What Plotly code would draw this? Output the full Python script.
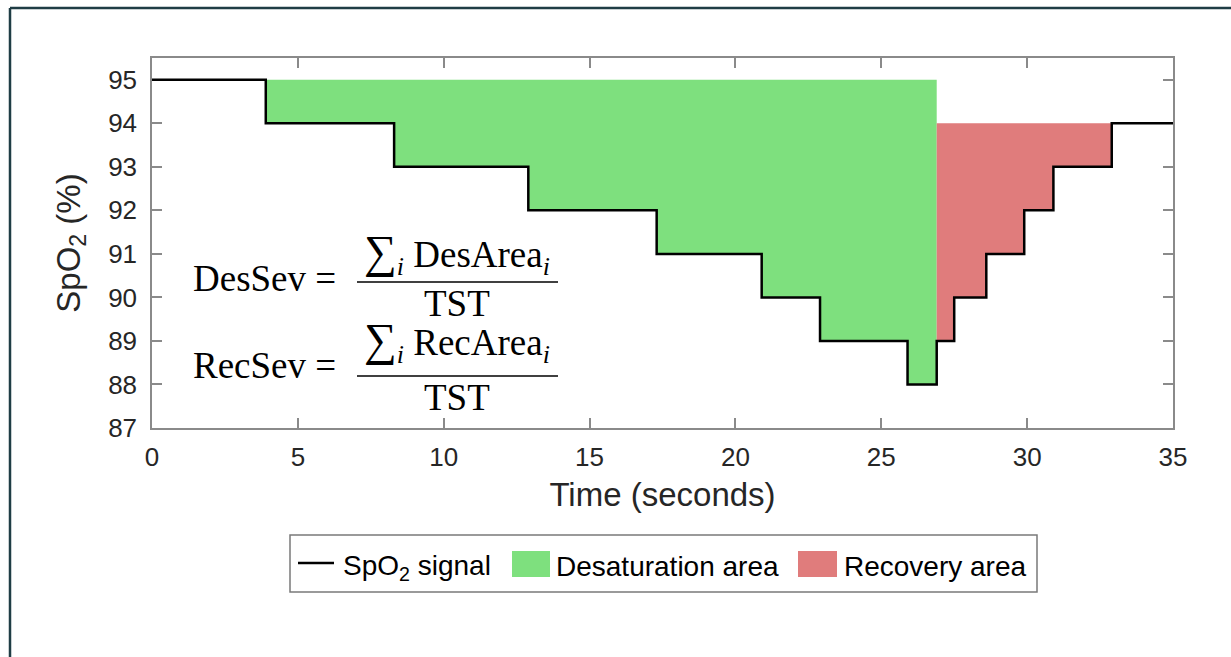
import plotly.graph_objects as go

# ---------------- data ----------------
step_times = [0, 3.9, 8.3, 12.9, 17.3, 20.9, 22.9, 25.9, 26.9, 27.5, 28.6, 29.9, 30.9, 32.9, 35]
spo2_levels = [95, 94, 93, 92, 91, 90, 89, 88, 89, 90, 91, 92, 93, 94, 94]
des_window = [3.9, 26.9]
des_reference = 95
rec_window = [26.9, 32.9]
rec_reference = 94
x_ticks = [0, 5, 10, 15, 20, 25, 30, 35]
y_ticks = [87, 88, 89, 90, 91, 92, 93, 94, 95]
legend_labels = ["SpO<sub>2</sub> signal", "Desaturation area", "Recovery area"]

GREEN = "#7EE07E"
RED = "#E07C7C"
TXT = "#262626"
AXC = "#8a8a8a"

# plot-area pixel geometry (for paper conversion of decorations)
L, R, T, B = 152, 1173, 58, 428
W, H = 1231, 657


def px(x):
    return (x - L) / (R - L)


def py(y):
    return (B - y) / (B - T)


def step_area(window, ref):
    t0, t1 = window
    xs, ys = [t0], [ref]
    for i in range(len(step_times) - 1):
        a, b = step_times[i], step_times[i + 1]
        if a >= t0 and b <= t1:
            xs += [a, b]
            ys += [spo2_levels[i], spo2_levels[i]]
    xs += [t1]
    ys += [ref]
    return xs, ys


fig = go.Figure()
dx, dy = step_area(des_window, des_reference)
fig.add_trace(go.Scatter(x=dx, y=dy, fill="toself", fillcolor=GREEN, mode="lines",
                         line=dict(width=0, color=GREEN), showlegend=False, hoverinfo="skip",
                         name="Desaturation area"))
rx, ry = step_area(rec_window, rec_reference)
fig.add_trace(go.Scatter(x=rx, y=ry, fill="toself", fillcolor=RED, mode="lines",
                         line=dict(width=0, color=RED), showlegend=False, hoverinfo="skip",
                         name="Recovery area"))
fig.add_trace(go.Scatter(x=step_times, y=spo2_levels, mode="lines",
                         line=dict(shape="hv", color="black", width=2.5),
                         showlegend=False, name="SpO2 signal", cliponaxis=False))

sans = "Liberation Sans, Arial, Helvetica, sans-serif"
serif = "Liberation Serif, Times New Roman, serif"

axis_common = dict(showline=True, linecolor=AXC, linewidth=1.5, mirror="ticks",
                   ticks="inside", ticklen=10, tickwidth=1.5, tickcolor=AXC,
                   showgrid=False, zeroline=False, layer="below traces",
                   tickfont=dict(family=sans, size=26, color=TXT))

fig.update_layout(
    width=W, height=H,
    margin=dict(l=L, r=W - R, t=T, b=H - B, autoexpand=False),
    paper_bgcolor="white", plot_bgcolor="white",
    showlegend=False,
    xaxis=dict(range=[0, 35], tickvals=x_ticks, ticklabelstandoff=5,
               title=dict(text="Time (seconds)", font=dict(family=sans, size=33, color=TXT), standoff=12),
               **axis_common),
    yaxis=dict(range=[87, 95.5], tickvals=y_ticks, ticklabelstandoff=8,
               title=dict(text="SpO<sub>2</sub> (%)", font=dict(family=sans, size=33, color=TXT), standoff=18),
               **axis_common),
)

shapes = []
annos = []

# outer frame (top and left edges visible)
FR = "#1f3d45"
shapes.append(dict(type="line", xref="paper", yref="paper", x0=px(10), y0=py(8), x1=px(1240), y1=py(8),
                   line=dict(color=FR, width=2.5)))
shapes.append(dict(type="line", xref="paper", yref="paper", x0=px(10), y0=py(8), x1=px(10), y1=py(670),
                   line=dict(color=FR, width=2.5)))

# equations
eq_font = dict(family=serif, size=37, color="black")
SUM = '<span style="font-size:46px">\u2211</span>'
rows = [
    ("DesSev =", SUM + "<sub><i>i</i></sub> DesArea<sub><i>i</i></sub>", 278, 254, 282, 303),
    ("RecSev =", SUM + "<sub><i>i</i></sub> RecArea<sub><i>i</i></sub>", 365, 341, 376, 397),
]
for lab, num, y_lab, y_num, y_bar, y_den in rows:
    annos.append(dict(text=lab, x=px(191), y=py(y_lab), xref="paper", yref="paper",
                      xanchor="left", yanchor="middle", showarrow=False, font=eq_font))
    annos.append(dict(text=num, x=px(457), y=py(y_num), xref="paper", yref="paper",
                      xanchor="center", yanchor="middle", showarrow=False, font=eq_font))
    annos.append(dict(text="TST", x=px(457), y=py(y_den), xref="paper", yref="paper",
                      xanchor="center", yanchor="middle", showarrow=False, font=eq_font))
    shapes.append(dict(type="line", xref="paper", yref="paper", x0=px(357), x1=px(558),
                       y0=py(y_bar), y1=py(y_bar), line=dict(color="black", width=1.5)))

# legend (drawn manually)
shapes.append(dict(type="rect", xref="paper", yref="paper", x0=px(290), x1=px(1037), y0=py(535), y1=py(592),
                   line=dict(color="#7a7a7a", width=1.5), fillcolor="white"))
shapes.append(dict(type="line", xref="paper", yref="paper", x0=px(298), x1=px(334), y0=py(563), y1=py(563),
                   line=dict(color="black", width=2.5)))
shapes.append(dict(type="rect", xref="paper", yref="paper", x0=px(512), x1=px(550), y0=py(551), y1=py(577),
                   line=dict(width=0), fillcolor=GREEN))
shapes.append(dict(type="rect", xref="paper", yref="paper", x0=px(798), x1=px(837), y0=py(551), y1=py(577),
                   line=dict(width=0), fillcolor=RED))
leg_font = dict(family=sans, size=28, color="black")
for lab, x0, yc in [(legend_labels[0], 341, 567), (legend_labels[1], 554, 566), (legend_labels[2], 842, 566)]:
    annos.append(dict(text=lab, x=px(x0), y=py(yc), xref="paper", yref="paper",
                      xanchor="left", yanchor="middle", showarrow=False, font=leg_font))

fig.update_layout(shapes=shapes, annotations=annos)
fig.write_html("out.html")
